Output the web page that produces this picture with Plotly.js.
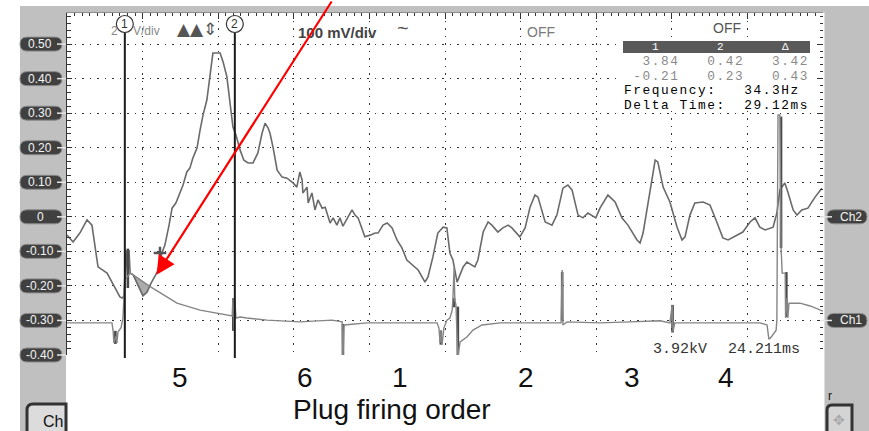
<!DOCTYPE html>
<html><head><meta charset="utf-8">
<script src="https://cdn.plot.ly/plotly-3.0.1.min.js"></script>
<style>html,body{margin:0;padding:0;background:#fff;}#chart{width:869px;height:431px;}</style>
</head><body><div id="chart"></div>
<script>
// ---- Channel 2 (upper trace): time in ms, volts ----
const ch2Time = [0.0,1.6,3.4,5.3,6.6,8.2,10.6,12.7,14.0,14.6,
15.1,15.6,16.1,16.4,16.7,17.5,18.8,20.1,21.2,22.0,
23.3,24.1,25.1,25.9,27.0,27.8,28.8,29.9,30.7,31.7,
32.5,33.3,34.4,35.2,36.0,37.0,37.8,38.6,40.5,41.3,
42.3,43.1,43.9,44.7,45.8,46.8,47.9,49.2,50.5,51.6,
52.4,53.2,53.7,54.5,55.6,56.9,58.2,59.8,60.8,61.6,
62.2,62.4,63.5,63.8,64.8,65.6,66.4,67.5,68.3,69.6,
70.4,71.4,72.2,73.0,74.3,75.4,76.2,77.0,77.5,78.8,
80.2,81.5,82.3,83.6,84.7,86.0,87.3,88.6,89.9,91.5,
92.9,94.7,95.5,96.8,98.1,99.5,100.5,101.3,102.1,103.2,
103.4,104.8,105.8,107.1,107.9,108.7,110.1,111.4,112.4,114.0,
115.3,116.7,117.7,119.8,121.2,122.5,123.8,124.6,126.5,128.3,
129.6,131.2,132.5,133.6,135.2,136.5,137.8,139.9,141.0,143.1,
145.0,146.8,148.4,150.8,151.6,152.4,154.2,155.6,156.3,157.7,
159.5,161.4,162.7,163.5,164.8,166.1,168.3,170.1,172.0,173.5,
174.9,177.2,178.8,180.7,182.0,183.3,184.7,186.8,187.8,188.6,
189.9,190.7,192.1,193.1,194.4,196.0,197.9,199.7];
const ch2Volts = [-0.053,-0.073,-0.047,-0.009,-0.024,-0.145,-0.163,-0.203,-0.232,-0.235,
-0.229,-0.096,-0.183,-0.096,-0.163,-0.168,-0.200,-0.229,-0.218,-0.197,
-0.171,-0.154,-0.105,-0.082,-0.024,0.025,0.040,0.069,0.092,0.130,
0.141,0.170,0.199,0.251,0.295,0.338,0.402,0.474,0.474,0.448,
0.405,0.338,0.260,0.237,0.193,0.164,0.156,0.156,0.185,0.242,
0.271,0.257,0.242,0.202,0.135,0.115,0.112,0.098,0.086,0.130,
0.106,0.069,0.086,0.040,0.069,0.020,0.049,0.025,0.028,-0.018,
-0.003,-0.024,-0.003,-0.027,-0.001,0.020,0.005,-0.003,-0.018,-0.058,
-0.053,-0.047,-0.047,-0.024,-0.018,-0.032,-0.067,-0.090,-0.125,-0.139,
-0.154,-0.189,-0.174,-0.116,-0.047,-0.030,-0.032,-0.105,-0.125,-0.189,
-0.183,-0.145,-0.131,-0.139,-0.145,-0.125,-0.044,-0.015,-0.024,-0.044,
-0.032,-0.024,-0.032,-0.058,-0.032,0.028,0.063,0.057,-0.015,-0.024,
0.005,0.083,0.092,0.078,0.005,-0.003,0.011,-0.003,0.025,0.063,
0.043,-0.003,-0.024,-0.067,-0.076,-0.047,0.078,0.164,0.159,0.086,
0.043,-0.030,-0.067,-0.058,0.005,0.040,0.043,0.034,-0.018,-0.061,
-0.067,-0.053,-0.044,-0.015,-0.003,-0.030,-0.038,-0.030,0.011,0.078,
0.098,0.072,0.020,0.005,0.020,0.025,0.057,0.083];

// ---- Channel 1 (lower trace) ----
const ch1Time = [0.0,8.7,11.9,12.2,12.4,13.0,13.2,13.5,14.3,14.8,
15.1,15.3,16.7,17.5,22.0,24.6,29.1,35.2,39.7,43.7,
43.9,44.2,44.4,44.7,45.8,47.6,52.9,61.6,70.1,72.8,
73.0,73.3,79.4,88.1,97.9,98.4,98.7,98.9,99.2,99.7,
100.5,101.3,101.9,102.1,102.4,102.6,102.9,103.4,104.0,105.8,
107.4,109.8,114.6,123.3,130.7,131.0,131.2,132.3,141.0,148.9,
156.9,159.5,160.1,160.3,160.8,170.9,183.3,185.2,185.7,186.5,
187.6,187.8,188.1,188.6,188.9,189.2,190.0,190.1,190.5,190.7,
191.0,193.9,196.6,200.0];
const ch1Volts = [-0.307,-0.307,-0.307,-0.330,-0.365,-0.345,-0.365,-0.333,-0.321,-0.293,
-0.241,-0.183,-0.163,-0.168,-0.202,-0.220,-0.250,-0.270,-0.278,-0.287,
-0.235,-0.328,-0.241,-0.293,-0.290,-0.293,-0.299,-0.304,-0.299,-0.304,
-0.414,-0.313,-0.307,-0.307,-0.307,-0.322,-0.365,-0.328,-0.371,-0.322,
-0.299,-0.293,-0.270,-0.235,-0.148,-0.241,-0.255,-0.406,-0.362,-0.348,
-0.328,-0.313,-0.307,-0.307,-0.307,-0.154,-0.313,-0.304,-0.307,-0.304,
-0.301,-0.307,-0.255,-0.333,-0.307,-0.307,-0.307,-0.313,-0.356,-0.345,
-0.328,-0.299,0.295,0.295,-0.087,-0.163,-0.163,-0.293,-0.235,-0.293,
-0.250,-0.250,-0.258,-0.273];

// dense (dark) ignition spike segments
const spikeTime = [12.8,16.1,44.0,73.0,98.9,102.4,103.4,131.0,160.2,188.9,190.3];
const spikeLow  = [-0.368,-0.206,-0.330,-0.414,-0.370,-0.262,-0.406,-0.300,-0.335,-0.090,-0.290];
const spikeHigh = [-0.330,-0.092,-0.235,-0.310,-0.330,-0.235,-0.260,-0.160,-0.255,0.290,-0.160];

// shaded overlap region after cylinder-5 firing
const shadeTime = [17.5,20.1,22.0];
const shadeVolts = [-0.168,-0.229,-0.202];

// cursors and marker
const cursorTimes = [15.3,44.4];
const cursorLabels = ['1','2'];
const markerTime = [24.6];
const markerVolts = [-0.105];
const arrowTipTime = 23.7, arrowTipVolts = -0.168;

// axis labels
const yTickVals = [0.5,0.4,0.3,0.2,0.1,0,-0.1,-0.2,-0.3,-0.4];
const yTickText = ['0.50','0.40','0.30','0.20','0.10','0','-0.10','-0.20','-0.30','-0.40'];
const channelLabels = ['Ch2','Ch1'];
const channelLevels = [0,-0.30];
const firingOrder = ['5','6','1','2','3','4'];
const firingTimes = [29.9,63.0,88.1,121.4,149.5,174.3];

// readout
const measHeaders = ['1','2','\u0394'];
const measRow1 = ['3.84','0.42','3.42'];
const measRow2 = ['-0.21','0.23','0.43'];
const freqText = ['Frequency:','34.3Hz'];
const deltaText = ['Delta Time:','29.12ms'];
const bottomReadout = ['3.92kV','24.211ms'];

// ---------------- drawing ----------------
const YMIN = -0.40, YMAX = 0.59;
const L = 67, T = 13, PW = 756, PH = 342;
const X = p => (p - L) / PW;            // pixel x -> paper
const Y = p => (T + PH - p) / PH;       // pixel y -> paper
const yPix = v => T + (YMAX - v) / (YMAX - YMIN) * PH;
const SANS = 'Liberation Sans, Arial, sans-serif';
const MONO = 'Liberation Mono, Courier New, monospace';

function pill(xl, xr, yc, h) {
  const r = h / 2, yt = yc - r, yb = yc + r;
  return `M${X(xl + r)},${Y(yt)} L${X(xr - r)},${Y(yt)} Q${X(xr)},${Y(yt)} ${X(xr)},${Y(yc)} ` +
    `Q${X(xr)},${Y(yb)} ${X(xr - r)},${Y(yb)} L${X(xl + r)},${Y(yb)} Q${X(xl)},${Y(yb)} ${X(xl)},${Y(yc)} ` +
    `Q${X(xl)},${Y(yt)} ${X(xl + r)},${Y(yt)} Z`;
}
function rectP(x0, y0, x1, y1, fill, lineColor, lineWidth, layer) {
  return {type:'rect', xref:'paper', yref:'paper', x0:X(x0), x1:X(x1), y0:Y(y1), y1:Y(y0),
    fillcolor:fill, line:{color:lineColor || fill, width:lineWidth || 0}, layer: layer || 'above'};
}

const shapes = [];
// gray bezel
shapes.push(rectP(20, 6, 66, 431, '#c0c0c0', null, 0, 'below'));
shapes.push(rectP(20, 6, 869, 12.5, '#c0c0c0', null, 0, 'below'));
shapes.push(rectP(824.5, 6, 869, 431, '#c0c0c0', null, 0, 'below'));
// readout background + header bar
shapes.push(rectP(621, 40, 812, 110, '#ffffff'));
shapes.push(rectP(623, 41, 810, 53, '#595959'));
// left value pills
yTickVals.forEach(v => {
  const c = yPix(v);
  shapes.push({type:'path', xref:'paper', yref:'paper', path:pill(20, 62, c, 14),
    fillcolor:'#404040', line:{color:'#8a8a8a', width:1}, layer:'above'});
  shapes.push({type:'line', xref:'paper', yref:'paper', x0:X(57), x1:X(66), y0:Y(c), y1:Y(c),
    line:{color:'#e6e6e6', width:1.5}, layer:'above'});
});
// right channel pills
channelLevels.forEach(v => {
  const c = yPix(v);
  shapes.push({type:'path', xref:'paper', yref:'paper', path:pill(827, 867, c, 14),
    fillcolor:'#404040', line:{color:'#8a8a8a', width:1}, layer:'above'});
  shapes.push({type:'line', xref:'paper', yref:'paper', x0:X(820), x1:X(832), y0:Y(c), y1:Y(c),
    line:{color:'#e6e6e6', width:1.5}, layer:'above'});
});
// cursors
cursorTimes.forEach(t => {
  shapes.push({type:'line', xref:'x', yref:'paper', x0:t, x1:t, y0:Y(358), y1:Y(32.5),
    line:{color:'#1a1a1a', width:2}, layer:'above'});
  shapes.push({type:'circle', xref:'x', yref:'paper', xsizemode:'pixel', xanchor:t,
    x0:-8.5, x1:8.5, y0:Y(32.5), y1:Y(15.5), fillcolor:'rgba(255,255,255,0.9)',
    line:{color:'#333', width:1.2}, layer:'above'});
});
// buttons
shapes.push({type:'path', xref:'paper', yref:'paper', path:
  `M${X(27)},${Y(434)} L${X(27)},${Y(410)} Q${X(27)},${Y(404)} ${X(33)},${Y(404)} L${X(66)},${Y(404)} L${X(66)},${Y(434)} Z`,
  fillcolor:'#dcdcdc', line:{color:'#333', width:3}, layer:'above'});
shapes.push({type:'path', xref:'paper', yref:'paper', path:
  `M${X(827)},${Y(434)} L${X(827)},${Y(410)} Q${X(827)},${Y(405)} ${X(832)},${Y(405)} L${X(852)},${Y(405)} L${X(852)},${Y(434)} Z`,
  fillcolor:'#d4d4d4', line:{color:'#333', width:3}, layer:'above'});

// traces
const spikeX = [], spikeY = [];
spikeTime.forEach((t, i) => { spikeX.push(t, t, null); spikeY.push(spikeLow[i], spikeHigh[i], null); });

const traces = [
  {x:shadeTime, y:shadeVolts, type:'scatter', mode:'lines', fill:'toself',
   fillcolor:'#ababab', line:{color:'#8a8a8a', width:0.8}, hoverinfo:'skip'},
  {x:ch1Time, y:ch1Volts, type:'scatter', mode:'lines', yaxis:'y2',
   line:{color:'#858585', width:1.4}, hoverinfo:'skip'},
  {x:ch2Time, y:ch2Volts, type:'scatter', mode:'lines',
   line:{color:'#6a6a6a', width:1.6}, hoverinfo:'skip'},
  {x:spikeX, y:spikeY, type:'scatter', mode:'lines', connectgaps:false,
   line:{color:'#4a4a4a', width:2.6}, hoverinfo:'skip'},
  {x:markerTime, y:markerVolts, type:'scatter', mode:'markers',
   marker:{symbol:'cross-thin', size:9, line:{width:2.5, color:'#555'}}, hoverinfo:'skip'}
];

// annotations
const ann = [];
const txt = (text, px, py, o) => Object.assign({text, xref:'paper', yref:'paper', x:X(px), y:Y(py),
  showarrow:false, xanchor:'left', yanchor:'middle', font:{family:SANS, size:12, color:'#333'}}, o || {});

yTickVals.forEach((v, i) => ann.push({text:yTickText[i], xref:'paper', yref:'y', x:X(40), y:v,
  showarrow:false, xanchor:'center', yanchor:'middle', font:{family:SANS, size:12, color:'#f4f4f4'}}));
channelLevels.forEach((v, i) => ann.push({text:channelLabels[i], xref:'paper', yref:'y', x:X(851), y:v,
  showarrow:false, xanchor:'center', yanchor:'middle', font:{family:SANS, size:12, color:'#f4f4f4'}}));
cursorTimes.forEach((t, i) => ann.push({text:cursorLabels[i], xref:'x', yref:'paper', x:t, y:Y(24),
  showarrow:false, xanchor:'center', yanchor:'middle', font:{family:SANS, size:12, color:'#333'}}));

ann.push(txt('2', 109, 31, {font:{family:SANS, size:12, color:'#888'}}));
ann.push(txt('V/div', 131, 31, {font:{family:SANS, size:12, color:'#888'}}));
ann.push(txt('\u25B2\u25B2\u21D5', 175, 29, {font:{family:'DejaVu Sans', size:17, color:'#555'}}));
ann.push(txt('<b>100 mV/div</b>', 296, 32, {font:{family:SANS, size:15, color:'#444'}}));
ann.push(txt('~', 395, 28, {font:{family:SANS, size:20, color:'#555'}}));
ann.push(txt('OFF', 525, 32, {font:{family:SANS, size:14, color:'#7a7a7a'}}));
ann.push(txt('OFF', 711, 28, {font:{family:SANS, size:14, color:'#555'}}));

[655, 720, 785].forEach((px, i) => ann.push(txt(measHeaders[i], px, 47,
  {xanchor:'center', font:{family:MONO, size:11, color:'#fff'}})));

// readout block: one monospace text block, fixed-width columns (9.25 px per character)
const pad = (s, n) => ' '.repeat(Math.max(0, n - s.length)) + s;
const big = s => `<span style="font-size:12.8px;letter-spacing:1.57px">${s.replace(/ /g, '&nbsp;')}</span>`;
const gray = s => `<span style="color:#8a8a8a">${big(s)}</span>`;
const row1 = pad(measRow1[0], 6) + pad(measRow1[1], 7) + pad(measRow1[2], 7);
const row2 = pad(measRow2[0], 6) + pad(measRow2[1], 7) + pad(measRow2[2], 7);
const row3 = freqText[0] + pad(freqText[1], 9);
const row4 = deltaText[0] + pad(deltaText[1], 9);
ann.push(txt([gray(row1), gray(row2), big(row3), big(row4)].join('<br>'), 623, 83,
  {align:'left', font:{family:MONO, size:11.2, color:'#000'}, borderpad:0}));

ann.push(txt(bottomReadout[0], 651, 349, {font:{family:MONO, size:15, color:'#333'}, bgcolor:'#fff'}));
ann.push(txt(bottomReadout[1], 726, 349, {font:{family:MONO, size:15, color:'#333'}, bgcolor:'#fff'}));

firingOrder.forEach((lab, i) => ann.push({text:lab, xref:'x', yref:'paper', x:firingTimes[i], y:Y(378),
  showarrow:false, xanchor:'center', yanchor:'middle', font:{family:SANS, size:28, color:'#111'}}));
ann.push(txt('Plug firing order', 392, 410, {xanchor:'center', font:{family:SANS, size:28, color:'#111'}}));

ann.push(txt('Ch', 41, 421, {font:{family:SANS, size:16, color:'#111'}}));
ann.push(txt('r', 826, 396, {font:{family:SANS, size:12, color:'#111'}}));
ann.push(txt('\u2725', 839, 420, {xanchor:'center', font:{family:'DejaVu Sans', size:14, color:'#a8a8a8'}}));

// red arrow
ann.push({text:'', xref:'x', yref:'y', x:arrowTipTime, y:arrowTipVolts, ax:176, ay:-277,
  showarrow:true, arrowhead:2, arrowsize:1.7, arrowwidth:2.2, arrowcolor:'#ff0000'});

const gridDash = '1.5px,6px';
const layout = {
  width:869, height:431,
  margin:{l:67, r:46, t:13, b:76, pad:0},
  paper_bgcolor:'#ffffff', plot_bgcolor:'#ffffff',
  showlegend:false, hovermode:false,
  font:{family:SANS},
  xaxis:{range:[0,200], side:'top', showline:true, linecolor:'#8e8e8e', linewidth:1,
    ticks:'inside', ticklen:6, tickcolor:'#333', tickwidth:1, dtick:20, tick0:0,
    showticklabels:false, showgrid:true, gridcolor:'#333', griddash:gridDash, gridwidth:1,
    zeroline:false, fixedrange:true,
    minor:{dtick:2, ticks:'inside', ticklen:3, tickcolor:'#333', showgrid:false}},
  yaxis:{range:[YMIN,YMAX], dtick:0.1, tick0:0, ticks:'inside', ticklen:5, tickcolor:'#333',
    showticklabels:false, showline:true, linecolor:'#333', linewidth:1,
    showgrid:true, gridcolor:'#333', griddash:gridDash, gridwidth:1, zeroline:false, fixedrange:true,
    minor:{dtick:0.02, ticks:'inside', ticklen:4, tickcolor:'#333', showgrid:false}},
  yaxis2:{range:[YMIN,YMAX], overlaying:'y', side:'right', dtick:0.1, tick0:0,
    ticks:'inside', ticklen:5, tickcolor:'#333', showticklabels:false, showline:false,
    showgrid:false, zeroline:false, fixedrange:true,
    minor:{dtick:0.02, ticks:'inside', ticklen:3, tickcolor:'#333', showgrid:false}},
  shapes:shapes,
  annotations:ann
};
Plotly.newPlot('chart', traces, layout, {staticPlot:true, displayModeBar:false});
</script>
</body></html>
